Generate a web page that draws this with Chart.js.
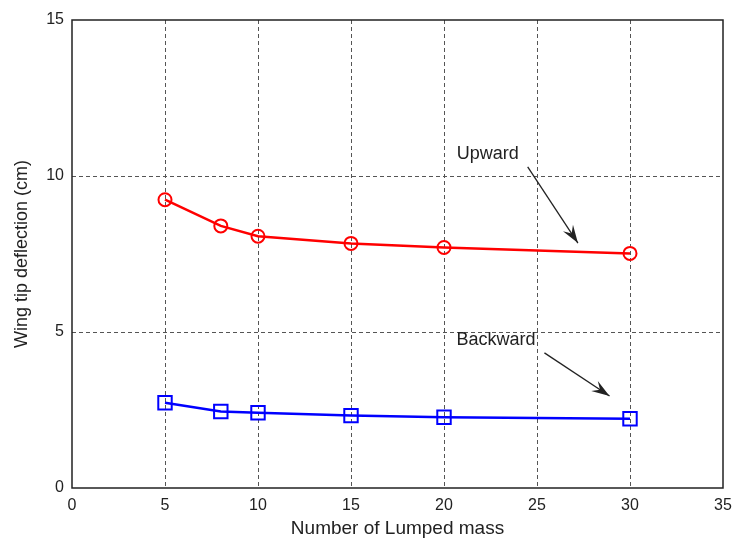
<!DOCTYPE html>
<html lang="en">
<head>
  <meta charset="UTF-8">
  <title>Wing tip deflection</title>
  <script src="https://cdn.jsdelivr.net/npm/chart.js"></script>
  <style>
    body { margin: 0; background: #fff; }
    #wrap { width: 736px; height: 538px; }
  </style>
</head>
<body>
  <div id="wrap"><canvas id="chart" width="736" height="538"></canvas></div>
  <script>
    // lumped mass counts and deflections
    const lumpedMass = [5, 8, 10, 15, 20, 30];
    const upward = [9.24, 8.4, 8.07, 7.84, 7.71, 7.52];
    const backward = [2.73, 2.45, 2.41, 2.32, 2.27, 2.22];
    const xTicks = [0, 5, 10, 15, 20, 25, 30, 35];
    const yTicks = [0, 5, 10, 15];

    // annotation text and arrows, in data units
    const notes = [
      { text: 'Upward', x: 22.35, y: 10.72, from: [24.5, 10.29], to: [27.2, 7.85] },
      { text: 'Backward', x: 22.8, y: 4.75, from: [25.4, 4.33], to: [28.9, 2.95] }
    ];

    const FONT = '"Liberation Sans", Arial, sans-serif';
    const TEXT = '#222';

    const pts = ys => lumpedMass.map((x, i) => ({ x, y: ys[i] }));

    const frameAndNotes = {
      id: 'frameAndNotes',
      afterDraw(chart) {
        const { ctx, chartArea: a, scales: { x, y } } = chart;
        ctx.save();
        ctx.strokeStyle = '#222';
        ctx.lineWidth = 1.5;
        ctx.strokeRect(a.left, a.top, a.right - a.left, a.bottom - a.top);

        ctx.font = '18px ' + FONT;
        ctx.textAlign = 'center';
        ctx.textBaseline = 'middle';
        notes.forEach(n => {
          ctx.fillStyle = TEXT;
          ctx.fillText(n.text, x.getPixelForValue(n.x), y.getPixelForValue(n.y));
          const x0 = x.getPixelForValue(n.from[0]), y0 = y.getPixelForValue(n.from[1]);
          const x1 = x.getPixelForValue(n.to[0]), y1 = y.getPixelForValue(n.to[1]);
          ctx.strokeStyle = '#222';
          ctx.lineWidth = 1.3;
          ctx.beginPath();
          ctx.moveTo(x0, y0);
          ctx.lineTo(x1, y1);
          ctx.stroke();
          // arrow head
          const ang = Math.atan2(y1 - y0, x1 - x0);
          const len = 19, half = 0.32;
          ctx.beginPath();
          ctx.moveTo(x1, y1);
          ctx.lineTo(x1 - len * Math.cos(ang - half), y1 - len * Math.sin(ang - half));
          ctx.lineTo(x1 - len * 0.6 * Math.cos(ang), y1 - len * 0.6 * Math.sin(ang));
          ctx.lineTo(x1 - len * Math.cos(ang + half), y1 - len * Math.sin(ang + half));
          ctx.closePath();
          ctx.fillStyle = '#222';
          ctx.fill();
        });
        ctx.restore();
      }
    };

    const edgeGrid = (min, max) => c =>
      (c.tick && (c.tick.value === min || c.tick.value === max)) ? 'rgba(0,0,0,0)' : '#555';

    new Chart(document.getElementById('chart'), {
      type: 'scatter',
      data: {
        datasets: [
          {
            label: 'Upward',
            data: pts(upward),
            showLine: true,
            borderColor: '#ff0000',
            borderWidth: 2.5,
            pointStyle: 'circle',
            pointRadius: 6.5,
            pointBorderWidth: 2,
            pointBackgroundColor: 'rgba(0,0,0,0)',
            pointBorderColor: '#ff0000'
          },
          {
            label: 'Backward',
            data: pts(backward),
            showLine: true,
            borderColor: '#0000ff',
            borderWidth: 2.5,
            pointStyle: 'rect',
            pointRadius: 9.5,
            pointBorderWidth: 2,
            pointBackgroundColor: 'rgba(0,0,0,0)',
            pointBorderColor: '#0000ff'
          }
        ]
      },
      options: {
        responsive: false,
        animation: false,
        layout: { padding: { top: 20, right: 13, left: 0, bottom: 0 } },
        plugins: { legend: { display: false }, tooltip: { enabled: false } },
        scales: {
          x: {
            type: 'linear',
            min: 0, max: 35,
            afterBuildTicks: s => { s.ticks = xTicks.map(v => ({ value: v })); },
            afterFit: s => { s.height = 50; s.paddingRight = 0; s.paddingLeft = 0; },
            grid: { color: edgeGrid(0, 35), lineWidth: 1, drawTicks: false },
            border: { display: false, dash: [4, 3] },
            ticks: { color: TEXT, font: { family: FONT, size: 16 }, padding: 8 },
            title: { display: true, text: 'Number of Lumped mass', color: TEXT,
                     font: { family: FONT, size: 19, lineHeight: 1 }, padding: 0 }
          },
          y: {
            type: 'linear',
            min: 0, max: 15,
            afterBuildTicks: s => { s.ticks = yTicks.map(v => ({ value: v })); },
            afterFit: s => { s.width = 72; s.paddingTop = 0; s.paddingBottom = 0; },
            grid: { color: edgeGrid(0, 15), lineWidth: 1, drawTicks: false },
            border: { display: false, dash: [4, 3] },
            ticks: { color: TEXT, font: { family: FONT, size: 16 }, padding: 8 },
            title: { display: true, text: 'Wing tip deflection (cm)', color: TEXT,
                     font: { family: FONT, size: 18 }, padding: { top: 11, bottom: 0 } }
          }
        }
      },
      plugins: [frameAndNotes]
    });
  </script>
</body>
</html>
